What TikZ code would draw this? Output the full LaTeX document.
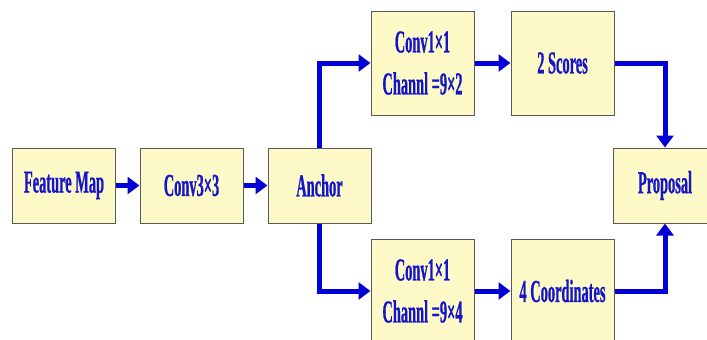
\documentclass[tikz,border=0pt]{standalone}
\usepackage{fontspec}
\setmainfont{Liberation Serif}[FakeStretch=0.45,BoldFeatures={FakeBold=0.6}]
\usetikzlibrary{arrows.meta,positioning,shadows}
\definecolor{boxfill}{RGB}{253,250,200}
\definecolor{txtblue}{RGB}{20,20,200}
\definecolor{arrblue}{RGB}{0,0,215}

\begin{document}
\begin{tikzpicture}[x=1pt,y=-1pt,
  blk/.style={draw=black!65,line width=1pt,fill=boxfill,minimum width=103pt,minimum height=75pt,
    align=center,text=txtblue,font=\fontsize{32}{42}\selectfont\bfseries,inner sep=0pt,
    drop shadow={shadow xshift=0.8pt,shadow yshift=-1pt,fill=black!70,opacity=0.8}},
  tall/.style={blk,minimum height=104pt},
  flow/.style={draw=arrblue,line width=5pt,-{Triangle[length=12pt,width=17pt]}}]
\useasboundingbox (0,0) rectangle (707,340);
\clip (0,0) rectangle (707,340);
\fill[white] (0,0) rectangle (707,340);
% main chain
\node[blk] (fmap) at (64,185.5) {Feature Map};
\node[blk] (conv) at (191.5,185.5) {Conv3\texttimes3};
\node[blk] (anchor) at (319.5,185.5) {Anchor};
% two branches
\node[tall] (cls) at (422.5,63) {Conv1\texttimes1\\Channl =9\texttimes2};
\node[tall] (scores) at (562.5,63) {2 Scores};
\node[tall] (reg) at (422.5,291) {Conv1\texttimes1\\Channl =9\texttimes4};
\node[tall] (coords) at (562.5,291) {4 Coordinates};
\node[blk] (prop) at (665,185.5) {Proposal};
\draw[flow] (fmap) -- (conv);
\draw[flow] (conv) -- (anchor);
\draw[flow] (anchor.north) |- (cls.west);
\draw[flow] (anchor.south) |- (reg.west);
\draw[flow] (cls) -- (scores);
\draw[flow] (reg) -- (coords);
\draw[flow] (scores.east) -| (prop.north);
\draw[flow] (coords.east) -| (prop.south);
\end{tikzpicture}
\end{document}
